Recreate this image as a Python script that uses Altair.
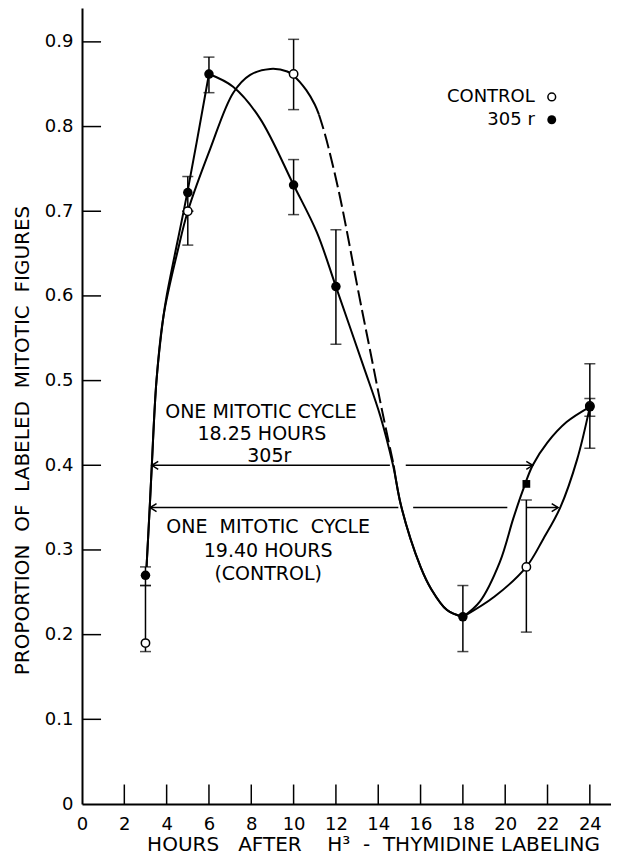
import altair as alt
import pandas as pd

FONT = "DejaVu Sans"
NB = "\u00a0"

# ---------------- axis ticks ----------------
x_ticks = [0, 2, 4, 6, 8, 10, 12, 14, 16, 18, 20, 22, 24]
y_ticks = [0, 0.1, 0.2, 0.3, 0.4, 0.5, 0.6, 0.7, 0.8, 0.9]

# ---------------- observed points ----------------
ctrl_x = [3, 5, 10, 21, 24]
ctrl_y = [0.19, 0.70, 0.862, 0.28, 0.47]
ctrl_lo = [0.18, 0.66, 0.82, 0.203, 0.42]
ctrl_hi = [0.258, 0.70, 0.903, 0.359, 0.479]

irr_x = [3, 5, 6, 10, 12, 18, 24]
irr_y = [0.27, 0.722, 0.862, 0.731, 0.611, 0.221, 0.469]
irr_lo = [0.258, 0.70, 0.84, 0.696, 0.543, 0.18, 0.458]
irr_hi = [0.28, 0.741, 0.882, 0.761, 0.678, 0.258, 0.52]

irr_sq_x = [21]
irr_sq_y = [0.378]

# ---------------- fitted curves, in pieces ----------------
# 305 r curve
irr_a_x = [3.05, 3.2, 3.3, 3.52, 3.85, 4.0, 5.0, 6.0]
irr_a_y = [0.28, 0.35, 0.40, 0.50, 0.576, 0.60, 0.725, 0.862]
irr_b_x = [6.0, 7.14, 8.4, 10.0, 11.1, 12.0, 13.3, 14.1, 14.7, 15.1, 16.0, 16.5, 17.25, 18.0]
irr_b_y = [0.862, 0.847, 0.81, 0.731, 0.675, 0.611, 0.517, 0.458, 0.40, 0.35, 0.28, 0.254, 0.229, 0.221]
irr_c_x = [18.0, 18.8, 19.75, 20.38, 20.8, 21.3, 22.0, 22.9, 24.0]
irr_c_y = [0.221, 0.239, 0.286, 0.337, 0.368, 0.40, 0.427, 0.451, 0.469]

# control curve
ctrl_a_x = [3.05, 3.2, 3.3, 3.52, 3.85, 4.54, 5.0, 6.05, 7.15, 7.95, 8.9, 9.7, 10.0, 10.6, 11.0, 11.2]
ctrl_a_y = [0.28, 0.35, 0.40, 0.50, 0.576, 0.655, 0.70, 0.773, 0.84, 0.861, 0.868, 0.865, 0.86, 0.843, 0.826, 0.814]
ctrl_dash_x = [11.2, 11.4, 11.64, 12.2, 13.1, 13.62, 14.17, 14.73]
ctrl_dash_y = [0.814, 0.798, 0.776, 0.716, 0.60, 0.535, 0.466, 0.40]
ctrl_b_x = [14.73, 15.1, 16.0, 16.5, 17.25, 18.0]
ctrl_b_y = [0.40, 0.35, 0.28, 0.254, 0.229, 0.221]
ctrl_c_x = [18.0, 19.5, 21.0, 21.8, 22.6, 23.4, 24.0]
ctrl_c_y = [0.221, 0.245, 0.28, 0.313, 0.35, 0.407, 0.469]

# ---------------- mitotic cycle arrows ----------------
arrow_irr_y = 0.40
arrow_irr_x0 = [3.3, 15.3]
arrow_irr_x1 = [14.55, 21.3]
arrow_ctrl_y = 0.35
arrow_ctrl_x0 = [3.22, 15.65, 21.0]
arrow_ctrl_x1 = [14.95, 20.1, 22.5]

# ---------------- annotation text ----------------
note_text = ["ONE MITOTIC CYCLE", "18.25 HOURS", "305r",
             "ONE" + NB + " MITOTIC" + NB + " CYCLE", "19.40 HOURS", "(CONTROL)"]
note_x = [8.46, 8.5, 8.85, 8.8, 8.8, 8.8]
note_y = [0.463, 0.437, 0.411, 0.327, 0.299, 0.272]

legend_text = ["CONTROL", "305 r"]
legend_x = [21.4, 21.4]
legend_sym_x = [22.2, 22.2]
legend_y = [0.835, 0.808]

X_TITLE = ("HOURS" + NB * 2 + " AFTER" + NB * 3 + " H³" + NB + " -" + NB + " THYMIDINE LABELING")
Y_TITLE = ("PROPORTION" + NB + " OF" + NB + " LABELED" + NB + " MITOTIC" + NB + " FIGURES")

XS = alt.Scale(domain=[0, 25], nice=False, zero=False)
YS = alt.Scale(domain=[0, 0.94], nice=False, zero=False)

X_AXIS = alt.Axis(values=x_ticks, labelFont=FONT, labelFontSize=18, labelColor="black",
                  ticks=False, tickSize=0, grid=False, domainColor="black", domainWidth=2,
                  labelPadding=11, labelFlush=False, labelOverlap=False,
                  titleFont=FONT, titleFontSize=20, titleFontWeight="normal",
                  titleColor="black", titlePadding=1, titleX=291)
Y_AXIS = alt.Axis(values=y_ticks, labelFont=FONT, labelFontSize=18, labelColor="black",
                  labelExpr="datum.value == 0 ? '0' : format(datum.value, '.1f')",
                  ticks=False, tickSize=0, grid=False, domainColor="black", domainWidth=2,
                  labelPadding=9, labelFlush=False, labelOverlap=False,
                  titleFont=FONT, titleFontSize=20, titleFontWeight="normal",
                  titleColor="black", titlePadding=12, titleY=432)


def xe(f):
    return alt.X(f, type="quantitative", scale=XS, axis=X_AXIS, title=X_TITLE)


def ye(f):
    return alt.Y(f, type="quantitative", scale=YS, axis=Y_AXIS, title=Y_TITLE)


def seg(xs, ys, name):
    return pd.DataFrame({"x": xs, "y": ys, "seg": name})


# data frames
ctrl_df = pd.DataFrame({"x": ctrl_x, "y": ctrl_y, "lo": ctrl_lo, "hi": ctrl_hi})
irr_df = pd.DataFrame({"x": irr_x, "y": irr_y, "lo": irr_lo, "hi": irr_hi})
err_df = pd.concat([ctrl_df, irr_df], ignore_index=True)
sq_df = pd.DataFrame({"x": irr_sq_x, "y": irr_sq_y})

curve_solid = pd.concat([
    seg(irr_a_x, irr_a_y, "ia"), seg(irr_b_x, irr_b_y, "ib"), seg(irr_c_x, irr_c_y, "ic"),
    seg(ctrl_a_x, ctrl_a_y, "ca"), seg(ctrl_b_x, ctrl_b_y, "cb"), seg(ctrl_c_x, ctrl_c_y, "cc"),
], ignore_index=True)
curve_dash = seg(ctrl_dash_x, ctrl_dash_y, "cd")

arrow_df = pd.concat([
    pd.DataFrame({"x0": arrow_irr_x0, "x1": arrow_irr_x1, "y": arrow_irr_y}),
    pd.DataFrame({"x0": arrow_ctrl_x0, "x1": arrow_ctrl_x1, "y": arrow_ctrl_y}),
], ignore_index=True)
left_heads = pd.DataFrame({"x": [arrow_irr_x0[0], arrow_ctrl_x0[0]], "y": [arrow_irr_y, arrow_ctrl_y]})
right_heads = pd.DataFrame({"x": [arrow_irr_x1[-1], arrow_ctrl_x1[-1]], "y": [arrow_irr_y, arrow_ctrl_y]})

xt_df = pd.DataFrame({"x": x_ticks[1:], "y0": 0.0, "y1": 0.023})
yt_df = pd.DataFrame({"y": y_ticks[1:], "x0": 0.0, "x1": 0.9})

note_df = pd.DataFrame({"x": note_x, "y": note_y, "t": note_text})
leg_df = pd.DataFrame({"x": legend_x, "sx": legend_sym_x, "y": legend_y, "t": legend_text})

# layers
xtick_layer = alt.Chart(xt_df).mark_rule(color="black", strokeWidth=1.5).encode(
    x=xe("x"), y=ye("y0"), y2="y1")
ytick_layer = alt.Chart(yt_df).mark_rule(color="black", strokeWidth=1.5).encode(
    y=ye("y"), x=xe("x0"), x2="x1")

solid_layer = alt.Chart(curve_solid).mark_line(
    color="black", strokeWidth=2, interpolate="catmull-rom").encode(
    x=xe("x"), y=ye("y"), detail="seg:N", order=alt.Order("x:Q"))
dash_layer = alt.Chart(curve_dash).mark_line(
    color="black", strokeWidth=2, interpolate="catmull-rom", strokeDash=[15, 5]).encode(
    x=xe("x"), y=ye("y"), order=alt.Order("x:Q"))

err_rule = alt.Chart(err_df).mark_rule(color="black", strokeWidth=1.5).encode(
    x=xe("x"), y=ye("lo"), y2="hi")
cap_lo = alt.Chart(err_df).mark_tick(color="black", orient="horizontal", size=11, thickness=1.5).encode(
    x=xe("x"), y=ye("lo"))
cap_hi = alt.Chart(err_df).mark_tick(color="black", orient="horizontal", size=11, thickness=1.5).encode(
    x=xe("x"), y=ye("hi"))

ctrl_pts = alt.Chart(ctrl_df).mark_point(
    shape="circle", filled=True, fill="white", stroke="black", strokeWidth=1.5, size=70, opacity=1).encode(
    x=xe("x"), y=ye("y"))
irr_pts = alt.Chart(irr_df).mark_point(
    shape="circle", filled=True, color="black", size=90, opacity=1).encode(
    x=xe("x"), y=ye("y"))
sq_pts = alt.Chart(sq_df).mark_point(
    shape="square", filled=True, color="black", size=60, opacity=1).encode(
    x=xe("x"), y=ye("y"))

arrow_lines = alt.Chart(arrow_df).mark_rule(color="black", strokeWidth=1.5).encode(
    x=xe("x0"), x2="x1", y=ye("y"))
lh = alt.Chart(left_heads).mark_point(
    shape="M 1.6 -1 L 0 0 L 1.6 1", filled=False, color="black", strokeWidth=1.5, size=64, opacity=1).encode(
    x=xe("x"), y=ye("y"))
rh = alt.Chart(right_heads).mark_point(
    shape="M -1.6 -1 L 0 0 L -1.6 1", filled=False, color="black", strokeWidth=1.5, size=64, opacity=1).encode(
    x=xe("x"), y=ye("y"))

notes = alt.Chart(note_df).mark_text(
    font=FONT, fontSize=19, color="black", align="center", baseline="middle").encode(
    x=xe("x"), y=ye("y"), text="t:N")

leg_text = alt.Chart(leg_df).mark_text(
    font=FONT, fontSize=18, color="black", align="right", baseline="middle").encode(
    x=xe("x"), y=ye("y"), text="t:N")
leg_open = alt.Chart(leg_df.iloc[[0]]).mark_point(
    shape="circle", filled=True, fill="white", stroke="black", strokeWidth=1.5, size=60, opacity=1).encode(
    x=xe("sx"), y=ye("y"))
leg_fill = alt.Chart(leg_df.iloc[[1]]).mark_point(
    shape="circle", filled=True, color="black", size=80, opacity=1).encode(
    x=xe("sx"), y=ye("y"))

chart = alt.layer(
    xtick_layer, ytick_layer, arrow_lines, lh, rh,
    solid_layer, dash_layer, err_rule, cap_lo, cap_hi,
    ctrl_pts, irr_pts, sq_pts, notes, leg_text, leg_open, leg_fill,
).properties(
    width=529, height=796,
    autosize=alt.AutoSizeParams(type="none"),
    padding={"left": 74, "top": 0, "right": 0, "bottom": 50},
    background="white",
).configure_view(stroke=None)

chart.save("out.html", embed_options={"renderer": "svg", "actions": False})
